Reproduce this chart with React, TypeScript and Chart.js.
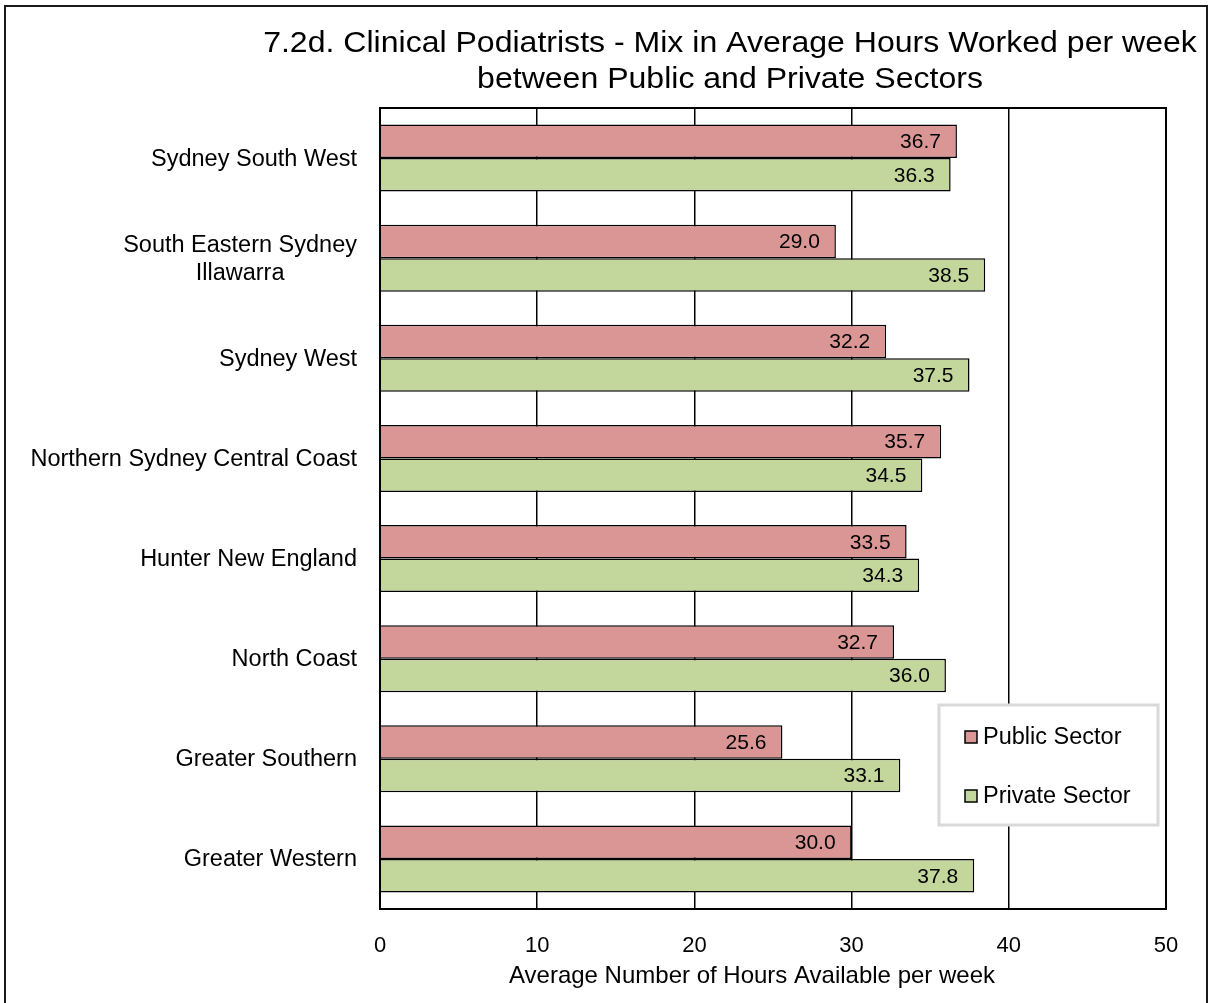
import React, { useEffect, useRef } from "react";
import { Chart, registerables } from "chart.js";

Chart.register(...registerables);

const categories: string[][] = [
  ["Sydney South West"],
  ["South Eastern Sydney", "Illawarra"],
  ["Sydney West"],
  ["Northern Sydney Central Coast"],
  ["Hunter New England"],
  ["North Coast"],
  ["Greater Southern"],
  ["Greater Western"],
];
const publicSector: number[] = [36.7, 29.0, 32.2, 35.7, 33.5, 32.7, 25.6, 30.0];
const privateSector: number[] = [36.3, 38.5, 37.5, 34.5, 34.3, 36.0, 33.1, 37.8];
const seriesNames: string[] = ["Public Sector", "Private Sector"];
const titleLines: string[] = [
  "7.2d. Clinical Podiatrists - Mix in Average Hours Worked per week",
  "between Public and Private Sectors",
];
const xAxisTitle = "Average Number of Hours Available per week";
const xMin = 0;
const xMax = 50;
const xStep = 10;

const FONT = "'Liberation Sans', Arial, sans-serif";
const COLORS = ["#D99694", "#C3D69B"];

const decorPlugin = {
  id: "decor",
  beforeDraw(chart: any) {
    const ctx = chart.ctx;
    ctx.save();
    ctx.fillStyle = "#ffffff";
    ctx.fillRect(0, 0, chart.width, chart.height);
    ctx.strokeStyle = "#1a1a1a";
    ctx.lineWidth = 2;
    ctx.strokeRect(5, 6, 1202, 1020);
    ctx.restore();
  },
  afterDatasetsDraw(chart: any) {
    const ctx = chart.ctx;
    const a = chart.chartArea;
    ctx.save();
    ctx.strokeStyle = "#000";
    ctx.lineWidth = 2;
    ctx.strokeRect(a.left, a.top, a.right - a.left, a.bottom - a.top);
    // data labels
    ctx.font = `21px ${FONT}`;
    ctx.fillStyle = "#000";
    ctx.textAlign = "right";
    ctx.textBaseline = "middle";
    chart.data.datasets.forEach((ds: any, i: number) => {
      const meta = chart.getDatasetMeta(i);
      meta.data.forEach((bar: any, j: number) => {
        ctx.fillText(Number(ds.data[j]).toFixed(1), bar.x - 16, bar.y + 1);
      });
    });
    ctx.restore();
  },
  afterDraw(chart: any) {
    const ctx = chart.ctx;
    const a = chart.chartArea;
    const yScale = chart.scales.y;
    ctx.save();
    ctx.fillStyle = "#000";
    // title (slightly stretched horizontally like the reference rendering)
    ctx.font = `30px ${FONT}`;
    ctx.textAlign = "center";
    ctx.textBaseline = "alphabetic";
    const sx = 1.068;
    ctx.save();
    ctx.translate(730, 0);
    ctx.scale(sx, 1);
    ctx.fillText(titleLines[0], 0, 52);
    ctx.fillText(titleLines[1], 0, 88);
    ctx.restore();
    // category labels
    ctx.font = `23.5px ${FONT}`;
    ctx.textBaseline = "middle";
    categories.forEach((lines, i) => {
      const y = yScale.getPixelForTick(i);
      const lh = 28;
      const w = Math.max(...lines.map((l) => ctx.measureText(l).width));
      const right = a.left - 23;
      const cx = right - w / 2;
      lines.forEach((l, k) => {
        const ly = y + (k - (lines.length - 1) / 2) * lh + 1;
        ctx.textAlign = "center";
        ctx.fillText(l, cx, ly);
      });
    });
    // x axis title
    ctx.font = `24px ${FONT}`;
    ctx.textAlign = "center";
    ctx.fillText(xAxisTitle, 752, 976);
    // legend
    const lx = 939, ly = 705, lw = 219, lhh = 120;
    ctx.strokeStyle = "#d9d9d9";
    ctx.lineWidth = 3;
    ctx.fillStyle = "#fff";
    ctx.fillRect(lx, ly, lw, lhh);
    ctx.strokeRect(lx, ly, lw, lhh);
    const rows = [737, 796];
    chart.data.datasets.forEach((ds: any, i: number) => {
      const cy = rows[i];
      ctx.fillStyle = ds.backgroundColor;
      ctx.fillRect(965, cy - 6, 12, 12);
      ctx.strokeStyle = "#000";
      ctx.lineWidth = 1.5;
      ctx.strokeRect(965, cy - 6, 12, 12);
      ctx.fillStyle = "#000";
      ctx.textAlign = "left";
      ctx.textBaseline = "middle";
      ctx.font = `23.5px ${FONT}`;
      ctx.fillText(ds.label, 983, cy + 1);
    });
    ctx.restore();
  },
};

export default function App() {
  const ref = useRef<HTMLCanvasElement | null>(null);
  useEffect(() => {
    if (!ref.current) return;
    const chart = new Chart(ref.current, {
      type: "bar",
      data: {
        labels: categories.map((c) => c.join(" ")),
        datasets: [
          {
            label: seriesNames[0],
            data: publicSector,
            backgroundColor: COLORS[0],
            borderColor: "#000",
            borderWidth: 1.5,
            categoryPercentage: 0.67,
            barPercentage: 1.0,
          },
          {
            label: seriesNames[1],
            data: privateSector,
            backgroundColor: COLORS[1],
            borderColor: "#000",
            borderWidth: 1.5,
            categoryPercentage: 0.67,
            barPercentage: 1.0,
          },
        ],
      },
      options: {
        indexAxis: "y",
        responsive: false,
        animation: false,
        devicePixelRatio: 1,
        layout: { padding: { left: 380, right: 50, top: 108, bottom: 0 } },
        plugins: {
          legend: { display: false },
          title: { display: false },
          tooltip: { enabled: false },
        },
        scales: {
          x: {
            min: xMin,
            max: xMax,
            ticks: {
              stepSize: xStep,
              color: "#000",
              font: { family: FONT, size: 22 },
              padding: 24,
            },
            grid: { color: "#000", lineWidth: 1.5, drawTicks: false },
            border: { display: false },
            afterFit: (s: any) => {
              s.height = 94;
            },
          },
          y: {
            ticks: { display: false },
            grid: { display: false },
            border: { display: false },
            afterFit: (s: any) => {
              s.width = 0;
            },
          },
        },
      },
      plugins: [decorPlugin],
    } as any);
    return () => chart.destroy();
  }, []);
  return (
    <div style={{ position: "absolute", left: 0, top: 0, width: 1216, height: 1003 }}>
      <canvas ref={ref} width={1216} height={1003} style={{ display: "block" }} />
    </div>
  );
}
